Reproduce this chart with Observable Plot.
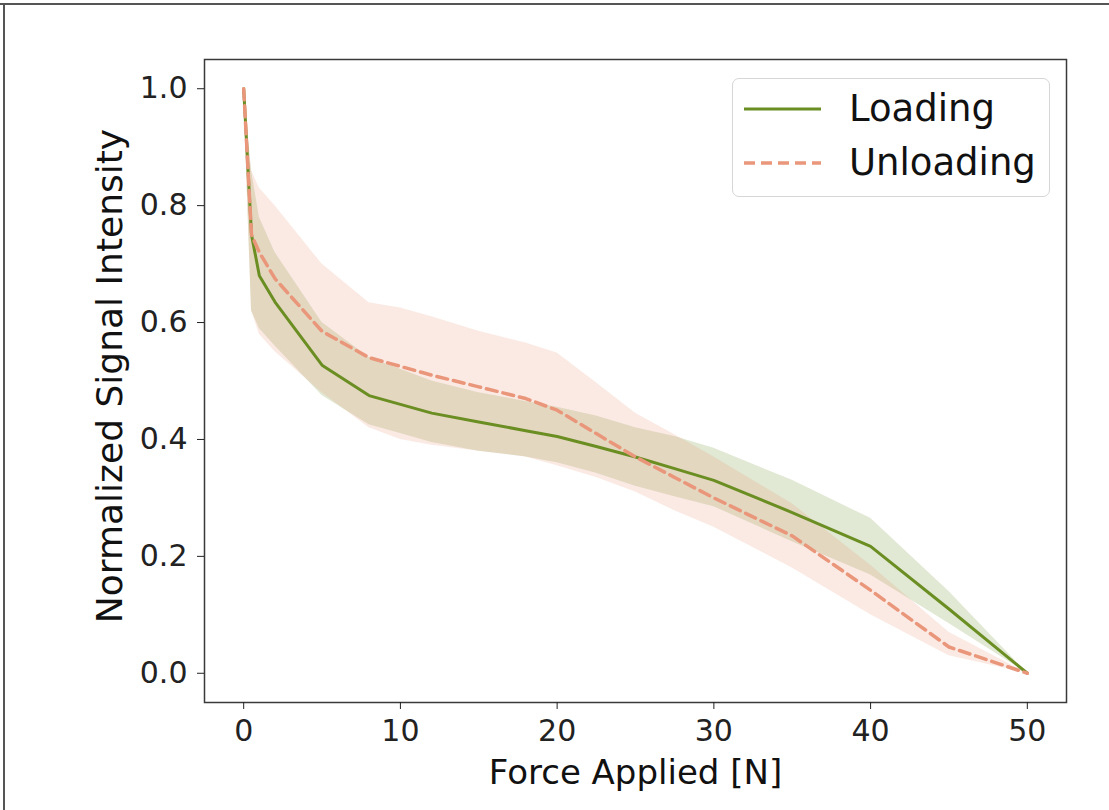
<!DOCTYPE html>
<html>
<head>
<meta charset="utf-8">
<script src="https://cdn.jsdelivr.net/npm/d3@7"></script>
<script src="https://cdn.jsdelivr.net/npm/@observablehq/plot@0.6"></script>
<style>
  html, body { margin: 0; padding: 0; background: white; }
  #wrap { position: relative; width: 1109px; height: 810px; overflow: hidden; font-family: "DejaVu Sans", sans-serif; }
  .edge { position: absolute; background: #555; }
  #legend { position: absolute; left: 732px; top: 78px; width: 316px; height: 117px;
            border: 1.5px solid #d6d6d6; border-radius: 7px; background: rgba(255,255,255,0.85); }
  .row { position: absolute; left: 0; height: 50px; }
  .row svg { position: absolute; left: 10px; }
  .row span { position: absolute; left: 116px; font-size: 37px; color: #111; white-space: nowrap; line-height: 50px; }
</style>
</head>
<body>
<div id="wrap">
  <div class="edge" style="left:0;top:3px;width:1109px;height:2px;"></div>
  <div class="edge" style="left:3px;top:3px;width:2px;height:807px;"></div>
  <div id="chart"></div>
  <div id="legend"></div>
</div>
<script>
// ---- data ----
const force = [0, 0.5, 1, 2, 5, 8, 10, 12, 15, 18, 20, 22.5, 25, 27.5, 30, 35, 40, 45, 50];

const loadMean = [1.0, 0.75, 0.68, 0.635, 0.527, 0.475, 0.46, 0.445, 0.43, 0.415, 0.405, 0.388, 0.37, 0.35, 0.33, 0.275, 0.217, 0.11, 0.0];
const loadLow  = [1.0, 0.62, 0.59, 0.56, 0.475, 0.425, 0.41, 0.395, 0.38, 0.37, 0.36, 0.342, 0.32, 0.302, 0.285, 0.225, 0.168, 0.085, 0.0];
const loadHigh = [1.0, 0.86, 0.78, 0.72, 0.60, 0.54, 0.52, 0.50, 0.48, 0.465, 0.455, 0.44, 0.42, 0.405, 0.385, 0.33, 0.265, 0.14, 0.0];

const unloadMean = [1.0, 0.75, 0.72, 0.675, 0.585, 0.54, 0.525, 0.51, 0.49, 0.47, 0.45, 0.41, 0.37, 0.335, 0.30, 0.235, 0.142, 0.045, 0.0];
const unloadLow  = [1.0, 0.62, 0.58, 0.55, 0.48, 0.42, 0.40, 0.39, 0.38, 0.37, 0.355, 0.335, 0.31, 0.278, 0.25, 0.18, 0.10, 0.03, 0.0];
const unloadHigh = [1.0, 0.86, 0.83, 0.80, 0.70, 0.634, 0.625, 0.61, 0.585, 0.565, 0.548, 0.497, 0.445, 0.408, 0.37, 0.29, 0.185, 0.07, 0.0];

const seriesNames = ["Loading", "Unloading"];
const seriesColors = ["#6b8e23", "#e9967a"];
const xTicks = [0, 10, 20, 30, 40, 50];
const yTicks = [0.0, 0.2, 0.4, 0.6, 0.8, 1.0];
const xLabel = "Force Applied [N]";
const yLabel = "Normalized Signal Intensity";

// ---- tables ----
const loadRows = force.map((f, i) => ({force: f, mean: loadMean[i], lo: loadLow[i], hi: loadHigh[i]}));
const unloadRows = force.map((f, i) => ({force: f, mean: unloadMean[i], lo: unloadLow[i], hi: unloadHigh[i]}));
const dash = "11,6";

const chart = Plot.plot({
  width: 1109,
  height: 810,
  marginTop: 59,
  marginRight: 43,
  marginBottom: 108,
  marginLeft: 204,
  style: {fontFamily: "DejaVu Sans", fontSize: "30px", color: "#222", background: "transparent"},
  x: {domain: [-2.5, 52.5]},
  y: {domain: [-0.05, 1.05]},
  marks: [
    Plot.areaY(loadRows, {x: "force", y1: "lo", y2: "hi", fill: seriesColors[0], fillOpacity: 0.2}),
    Plot.areaY(unloadRows, {x: "force", y1: "lo", y2: "hi", fill: seriesColors[1], fillOpacity: 0.2}),
    Plot.line(loadRows, {x: "force", y: "mean", stroke: seriesColors[0], strokeWidth: 3}),
    Plot.line(unloadRows, {x: "force", y: "mean", stroke: seriesColors[1], strokeWidth: 3.5, strokeDasharray: dash}),
    Plot.frame({stroke: "#3a3a3a", strokeWidth: 1.5}),
    Plot.axisX({ticks: xTicks, tickSize: 7, tickPadding: 10, label: null, fontSize: 30}),
    Plot.axisY({ticks: yTicks, tickFormat: d3.format(".1f"), tickSize: 7, tickPadding: 10, label: null, fontSize: 30}),
    Plot.text([xLabel], {text: d => d, frameAnchor: "bottom", lineAnchor: "middle", textAnchor: "middle", dy: 71, fontSize: 34, fill: "#111"}),
    Plot.text([yLabel], {text: d => d, frameAnchor: "left", lineAnchor: "middle", textAnchor: "middle", rotate: -90, dx: -94, dy: -5, fontSize: 36, fill: "#111"})
  ]
});
document.getElementById("chart").appendChild(chart);

// ---- legend ----
const legend = document.getElementById("legend");
seriesNames.forEach((name, i) => {
  const row = document.createElement("div");
  row.className = "row";
  row.style.top = (5 + i * 54) + "px";
  row.style.width = "316px";
  const sw = `<svg width="80" height="10" style="top:20px"><line x1="1" x2="78" y1="5" y2="5" stroke="${seriesColors[i]}" stroke-width="${i ? 3.5 : 3}" ${i ? `stroke-dasharray="${dash}"` : ""}/></svg>`;
  row.innerHTML = sw + `<span>${name}</span>`;
  legend.appendChild(row);
});
</script>
</body>
</html>
